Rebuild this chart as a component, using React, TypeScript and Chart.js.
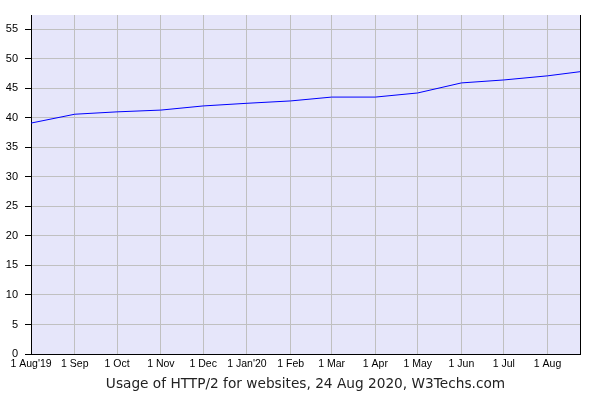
import React, { useEffect, useRef } from "react";
import { Chart, registerables } from "chart.js";

Chart.register(...registerables);

// Data
const pointDates = [
  "2019-08-01", "2019-09-01", "2019-10-01", "2019-11-01", "2019-12-01",
  "2020-01-01", "2020-02-01", "2020-03-01", "2020-04-01", "2020-05-01",
  "2020-06-01", "2020-07-01", "2020-08-01", "2020-08-24",
];
const http2Usage = [39.1, 40.6, 41.0, 41.3, 42.0, 42.45, 42.85, 43.5, 43.5, 44.2, 45.9, 46.4, 47.1, 47.8];

const tickDates = [
  "2019-08-01", "2019-09-01", "2019-10-01", "2019-11-01", "2019-12-01",
  "2020-01-01", "2020-02-01", "2020-03-01", "2020-04-01", "2020-05-01",
  "2020-06-01", "2020-07-01", "2020-08-01",
];
const tickLabels = [
  "1 Aug'19", "1 Sep", "1 Oct", "1 Nov", "1 Dec", "1 Jan'20", "1 Feb",
  "1 Mar", "1 Apr", "1 May", "1 Jun", "1 Jul", "1 Aug",
];
const yTicks = [0, 5, 10, 15, 20, 25, 30, 35, 40, 45, 50, 55];
const startDate = "2019-08-01";
const endDate = "2020-08-24";
const yMax = 57.4;
const titleText = "Usage of HTTP/2 for websites, 24 Aug 2020, W3Techs.com";

const dayOf = (s: string) => {
  const [y, m, d] = s.split("-").map(Number);
  const [y0, m0, d0] = startDate.split("-").map(Number);
  return (Date.UTC(y, m - 1, d) - Date.UTC(y0, m0 - 1, d0)) / 86400000;
};

const bgPlugin = {
  id: "bgPlugin",
  beforeDraw(chart: any) {
    const { ctx, chartArea } = chart;
    ctx.save();
    ctx.fillStyle = "#e6e6fa";
    ctx.fillRect(chartArea.left, chartArea.top, chartArea.right - chartArea.left, chartArea.bottom - chartArea.top);
    ctx.restore();
  },
  afterDraw(chart: any) {
    const { ctx, chartArea } = chart;
    ctx.save();
    ctx.strokeStyle = "#000";
    ctx.lineWidth = 1;
    ctx.beginPath();
    ctx.moveTo(Math.round(chartArea.right) + 0.5, chartArea.top);
    ctx.lineTo(Math.round(chartArea.right) + 0.5, chartArea.bottom);
    ctx.stroke();
    ctx.fillStyle = "#222";
    ctx.font = '13.7px "DejaVu Sans"';
    ctx.textAlign = "center";
    ctx.textBaseline = "middle";
    ctx.fillText(titleText, (chartArea.left + chartArea.right) / 2, 384.5);
    ctx.restore();
  },
};

export default function App() {
  const ref = useRef<HTMLCanvasElement | null>(null);
  useEffect(() => {
    document.body.style.margin = "0";
    if (!ref.current) return;
    const chart = new Chart(ref.current, {
      type: "line",
      data: {
        datasets: [
          {
            data: pointDates.map((d, i) => ({ x: dayOf(d), y: http2Usage[i] })),
            borderColor: "#0000ff",
            borderWidth: 1,
            pointRadius: 0,
            fill: false,
            tension: 0,
          },
        ],
      },
      options: {
        animation: false,
        responsive: false,
        events: [],
        layout: { padding: { top: 15, right: 20, bottom: 26, left: 0 } },
        plugins: { legend: { display: false }, tooltip: { enabled: false }, title: { display: false } },
        scales: {
          x: {
            type: "linear",
            min: 0,
            max: dayOf(endDate),
            afterBuildTicks: (axis: any) => {
              axis.ticks = tickDates.map((d) => ({ value: dayOf(d) }));
            },
            afterFit: (axis: any) => {
              axis.height = 20;
            },
            ticks: {
              autoSkip: false,
              maxRotation: 0,
              padding: 4,
              color: "#000",
              font: { family: "Liberation Sans", size: 10.5 },
              callback: (v: any) => {
                const i = tickDates.findIndex((d) => dayOf(d) === v);
                return i >= 0 ? tickLabels[i] : "";
              },
            },
            grid: { color: "#c0c0c0", lineWidth: 1, drawTicks: false },
            border: { color: "#000", width: 1 },
          },
          y: {
            min: 0,
            max: yMax,
            afterBuildTicks: (axis: any) => {
              axis.ticks = yTicks.map((v) => ({ value: v }));
            },
            afterFit: (axis: any) => {
              axis.width = 31;
            },
            ticks: {
              padding: 7,
              color: "#000",
              font: { family: "Liberation Sans", size: 11 },
            },
            grid: { color: "#c0c0c0", lineWidth: 1, tickColor: "#000", tickLength: 6, drawTicks: true },
            border: { color: "#000", width: 1 },
          },
        },
      },
      plugins: [bgPlugin],
    });
    return () => chart.destroy();
  }, []);
  return (
    <div style={{ width: 600, height: 400 }}>
      <canvas ref={ref} width={600} height={400} style={{ display: "block" }} />
    </div>
  );
}
